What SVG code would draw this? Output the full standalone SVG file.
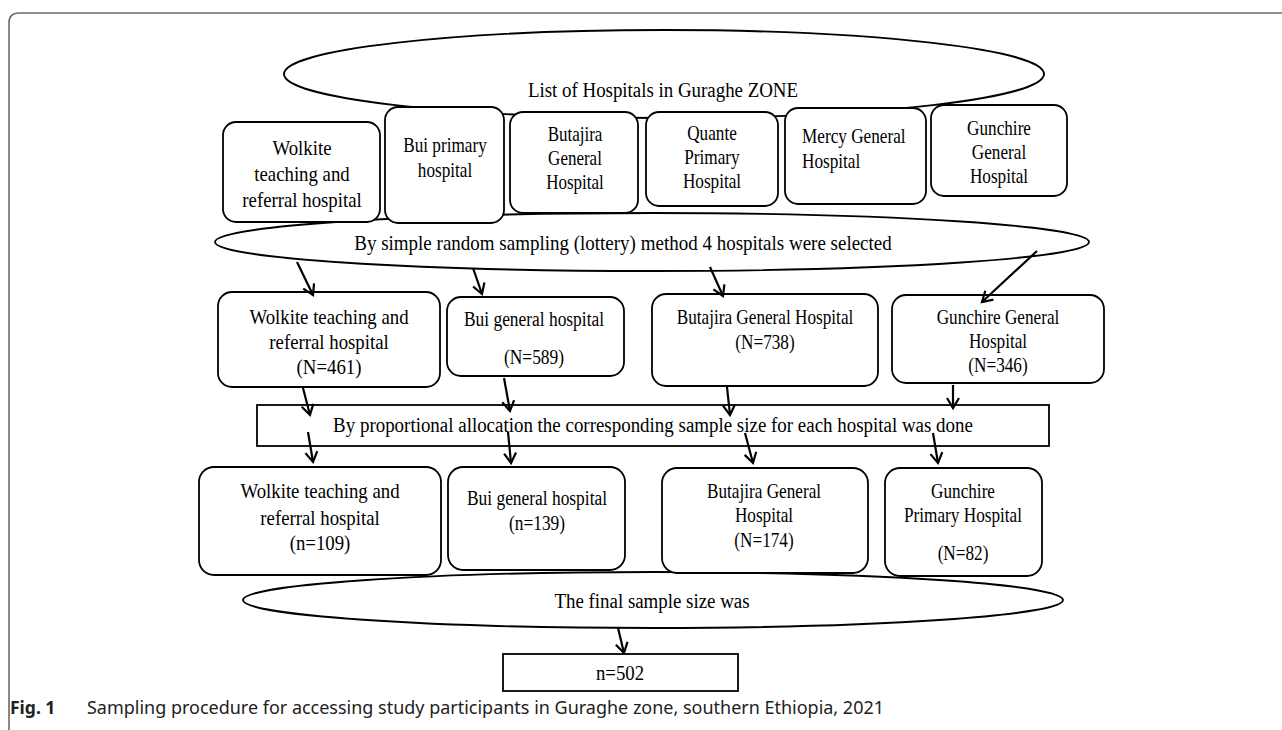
<svg xmlns="http://www.w3.org/2000/svg" width="1282" height="730" viewBox="0 0 1282 730">
<style>
.t{font-family:"Liberation Serif","Times New Roman",serif;font-size:20px;fill:#000;text-anchor:middle}
.ts{text-anchor:start}
.box{fill:#fff;stroke:#000;stroke-width:1.8}
.ell{fill:#fff;stroke:#000;stroke-width:1.9}
.conn line{stroke:#000;stroke-width:2.2;marker-end:url(#ah)}
.cap{font-family:"Noto Sans","Open Sans",sans-serif;font-size:17.5px;fill:#222}
</style>
<defs>
<marker id="ah" markerUnits="userSpaceOnUse" markerWidth="16" markerHeight="16" refX="11" refY="7" orient="auto" viewBox="0 0 16 14">
<path d="M1,1 L11,7 L1,13" fill="none" stroke="#000" stroke-width="2.2"/>
</marker>
</defs>
<rect width="1282" height="730" fill="#fff"/>
<path d="M9,730 L9,23 Q9,13 19,13 L1282,13" fill="none" stroke="#6b6b6b" stroke-width="1.6"/>

<g id="list-ellipse">
<ellipse class="ell" cx="664" cy="74" rx="380" ry="44"/>
<text class="t" transform="translate(663,0) scale(0.945,1)" x="0" y="97">List of Hospitals in Guraghe ZONE</text>
</g>

<g id="sampling-ellipse">
<ellipse class="ell" cx="652" cy="242" rx="437" ry="29"/>
<text class="t" transform="translate(623,0) scale(0.95,1)" x="0" y="250">By simple random sampling (lottery) method 4 hospitals were selected</text>
</g>

<g id="h1-wolkite">
<rect class="box" x="223" y="122" width="157" height="100" rx="13"/>
<text class="t" transform="translate(302,0) scale(0.94,1)"><tspan x="0" y="155">Wolkite</tspan><tspan x="0" y="181">teaching and</tspan><tspan x="0" y="207">referral hospital</tspan></text>
</g>
<g id="h1-bui">
<rect class="box" x="385" y="107" width="119" height="116" rx="13"/>
<text class="t" transform="translate(445,0) scale(0.86,1)"><tspan x="0" y="152">Bui primary</tspan><tspan x="0" y="177">hospital</tspan></text>
</g>
<g id="h1-butajira">
<rect class="box" x="510" y="112" width="128" height="101" rx="13"/>
<text class="t" transform="translate(575,0) scale(0.85,1)"><tspan x="0" y="141">Butajira</tspan><tspan x="0" y="165">General</tspan><tspan x="0" y="189">Hospital</tspan></text>
</g>
<g id="h1-quante">
<rect class="box" x="646" y="112" width="132" height="94" rx="13"/>
<text class="t" transform="translate(712,0) scale(0.86,1)"><tspan x="0" y="140">Quante</tspan><tspan x="0" y="164">Primary</tspan><tspan x="0" y="188">Hospital</tspan></text>
</g>
<g id="h1-mercy">
<rect class="box" x="785" y="108" width="141" height="96" rx="13"/>
<text class="t ts" transform="translate(802,0) scale(0.86,1)"><tspan x="0" y="143">Mercy General</tspan><tspan x="0" y="168">Hospital</tspan></text>
</g>
<g id="h1-gunchire">
<rect class="box" x="931" y="105" width="136" height="91" rx="13"/>
<text class="t" transform="translate(999,0) scale(0.86,1)"><tspan x="0" y="135">Gunchire</tspan><tspan x="0" y="159">General</tspan><tspan x="0" y="183">Hospital</tspan></text>
</g>

<g id="h2-wolkite">
<rect class="box" x="218" y="292" width="222" height="95" rx="14"/>
<text class="t" transform="translate(329,0) scale(0.94,1)"><tspan x="0" y="324">Wolkite teaching and</tspan><tspan x="0" y="349">referral hospital</tspan><tspan x="0" y="374">(N=461)</tspan></text>
</g>
<g id="h2-bui">
<rect class="box" x="447" y="297" width="177" height="79" rx="14"/>
<text class="t" transform="translate(534,0) scale(0.87,1)"><tspan x="0" y="326">Bui general hospital</tspan><tspan x="0" y="364">(N=589)</tspan></text>
</g>
<g id="h2-butajira">
<rect class="box" x="652" y="294" width="226" height="92" rx="14"/>
<text class="t" transform="translate(765,0) scale(0.86,1)"><tspan x="0" y="324">Butajira General Hospital</tspan><tspan x="0" y="349">(N=738)</tspan></text>
</g>
<g id="h2-gunchire">
<rect class="box" x="892" y="295" width="212" height="88" rx="14"/>
<text class="t" transform="translate(998,0) scale(0.86,1)"><tspan x="0" y="324">Gunchire General</tspan><tspan x="0" y="348">Hospital</tspan><tspan x="0" y="372">(N=346)</tspan></text>
</g>

<g id="allocation">
<rect class="box" x="257" y="405" width="792" height="41"/>
<text class="t" transform="translate(653,0) scale(0.947,1)" x="0" y="432">By proportional allocation the corresponding sample size for each hospital was done</text>
</g>

<g id="final-ellipse">
<ellipse class="ell" cx="653" cy="600" rx="410" ry="28"/>
<text class="t" transform="translate(652,0) scale(0.945,1)" x="0" y="608">The final sample size was</text>
</g>

<g id="h3-wolkite">
<rect class="box" x="199" y="467" width="242" height="108" rx="15"/>
<text class="t" transform="translate(320,0) scale(0.94,1)"><tspan x="0" y="498">Wolkite teaching and</tspan><tspan x="0" y="525">referral hospital</tspan><tspan x="0" y="550">(n=109)</tspan></text>
</g>
<g id="h3-bui">
<rect class="box" x="448" y="467" width="177" height="103" rx="15"/>
<text class="t" transform="translate(537,0) scale(0.87,1)"><tspan x="0" y="505">Bui general hospital</tspan><tspan x="0" y="530">(n=139)</tspan></text>
</g>
<g id="h3-butajira">
<rect class="box" x="662" y="468" width="206" height="105" rx="15"/>
<text class="t" transform="translate(764,0) scale(0.86,1)"><tspan x="0" y="498">Butajira General</tspan><tspan x="0" y="522">Hospital</tspan><tspan x="0" y="547">(N=174)</tspan></text>
</g>
<g id="h3-gunchire">
<rect class="box" x="885" y="468" width="157" height="108" rx="15"/>
<text class="t" transform="translate(963,0) scale(0.86,1)"><tspan x="0" y="498">Gunchire</tspan><tspan x="0" y="522">Primary Hospital</tspan><tspan x="0" y="560">(N=82)</tspan></text>
</g>

<g id="total">
<rect class="box" x="503" y="654" width="235" height="37"/>
<text class="t" transform="translate(620,0) scale(0.94,1)" x="0" y="680">n=502</text>
</g>

<g id="connectors" class="conn">
<line x1="297" y1="262" x2="313" y2="295"/>
<line x1="473" y1="268" x2="482" y2="294"/>
<line x1="710" y1="267" x2="723" y2="296"/>
<line x1="1037" y1="251" x2="982" y2="302"/>
<line x1="303" y1="388" x2="310" y2="415"/>
<line x1="504" y1="378" x2="510" y2="411"/>
<line x1="727" y1="387" x2="730" y2="415"/>
<line x1="953" y1="385" x2="953" y2="408"/>
<line x1="308" y1="432" x2="313" y2="462"/>
<line x1="508" y1="432" x2="511" y2="463"/>
<line x1="745" y1="433" x2="753" y2="463"/>
<line x1="933" y1="433" x2="938" y2="463"/>
<line x1="618" y1="628" x2="624" y2="653"/>
</g>

<g id="caption">
<text class="cap" x="10" y="714" font-weight="bold" font-size="19">Fig. 1</text>
<text class="cap" x="87" y="714" textLength="797" lengthAdjust="spacingAndGlyphs">Sampling procedure for accessing study participants in Guraghe zone, southern Ethiopia, 2021</text>
</g>
</svg>
